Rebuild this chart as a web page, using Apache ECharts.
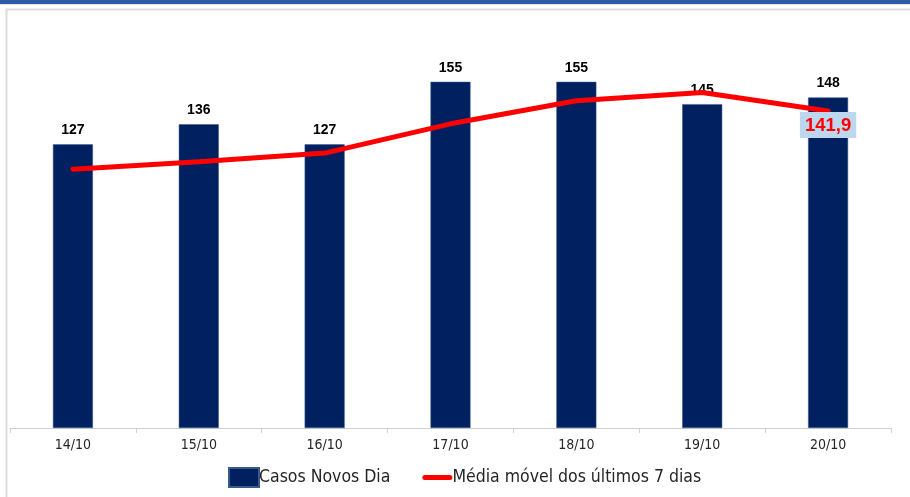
<!DOCTYPE html>
<html>
<head>
<meta charset="utf-8">
<script src="https://cdn.jsdelivr.net/npm/echarts@6/dist/echarts.min.js"></script>
<style>html,body{margin:0;padding:0;background:#fff;}#c{width:910px;height:497px;}</style>
</head>
<body>
<div id="c"></div>
<script>
const categories = ['14/10','15/10','16/10','17/10','18/10','19/10','20/10'];
const casosNovos = [127, 136, 127, 155, 155, 145, 148];
const mediaMovel = [115.9, 119.2, 123.1, 136.2, 146.5, 150.2, 141.9];
const seriesNames = ['Casos Novos Dia', 'Média móvel dos últimos 7 dias'];

const narrow = "'Liberation Sans Narrow', 'DejaVu Sans Condensed', 'Arial Narrow', sans-serif";
const chart = echarts.init(document.getElementById('c'), null, {renderer: 'canvas'});
chart.setOption({
  animation: false,
  backgroundColor: '#ffffff',
  graphic: [
    {type: 'rect', shape: {x: 0, y: 0, width: 910, height: 4}, style: {fill: '#2F5AA6'}},
    {type: 'rect', shape: {x: 0, y: 4, width: 910, height: 1}, style: {fill: '#e4e4e4'}},
    {type: 'rect', shape: {x: 6.5, y: 9.5, width: 920, height: 520}, style: {fill: 'none', stroke: '#dcdcdc', lineWidth: 2}}
  ],
  grid: {left: 10, right: 19, top: 26, bottom: 69, containLabel: false},
  legend: {
    top: 462,
    left: 223,
    itemGap: 32,
    itemWidth: 30,
    itemHeight: 19,
    textStyle: {fontFamily: narrow, fontSize: 17.5, color: '#262626', padding: [0,0,0,-5]},
    data: [
      {name: seriesNames[0], icon: 'rect'},
      {name: seriesNames[1], icon: 'path://M3,0 H33 A3,3 0 0 1 33,6 H3 A3,3 0 0 1 3,0 Z'}
    ]
  },
  xAxis: {
    type: 'category',
    data: categories,
    axisLine: {lineStyle: {color: '#d0d0d0', width: 1}},
    axisTick: {show: true, length: 5, lineStyle: {color: '#d0d0d0'}},
    axisLabel: {fontFamily: narrow, fontSize: 14, color: '#262626', margin: 10}
  },
  yAxis: {
    type: 'value', min: 0, max: 180,
    show: false,
    splitLine: {show: false}
  },
  series: [
    {
      name: seriesNames[0],
      type: 'bar',
      data: casosNovos,
      barWidth: 40,
      itemStyle: {color: '#002060', borderColor: '#3a5a8c', borderWidth: 0.5},
      label: {show: true, position: 'top', distance: 7, fontFamily: 'Liberation Sans, Arial, sans-serif', fontWeight: 'bold', fontSize: 14, color: '#000'}
    },
    {
      name: seriesNames[1],
      type: 'line',
      data: mediaMovel.map((v, i) => i === mediaMovel.length - 1 ? {
        value: v,
        label: {
          show: true, position: 'bottom', distance: 1,
          formatter: p => p.value.toFixed(1).replace('.', ','),
          fontFamily: 'Liberation Sans, Arial, sans-serif', fontWeight: 'bold', fontSize: 18.5,
          color: '#FF0000', backgroundColor: '#BDD7EE', padding: [4, 5, 3, 5]
        }
      } : v),
      symbol: 'circle',
      symbolSize: 0,
      showSymbol: true,
      smooth: false,
      lineStyle: {color: '#FF0000', width: 5, cap: 'round', join: 'round'},
      itemStyle: {color: '#FF0000'},
      z: 3
    }
  ]
});
</script>
</body>
</html>
